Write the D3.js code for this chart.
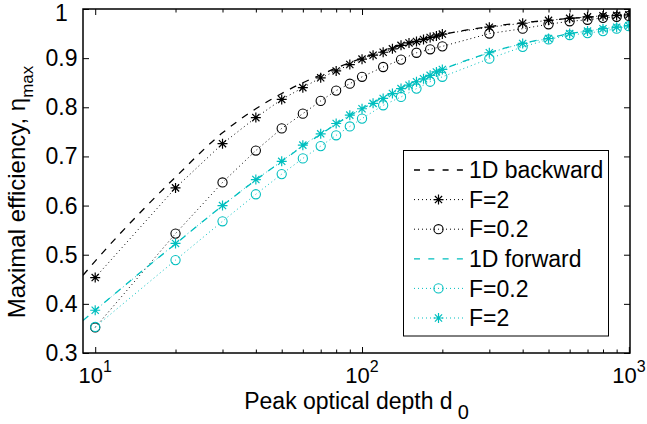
<!DOCTYPE html>
<html>
<head>
<meta charset="utf-8">
<script src="https://cdn.jsdelivr.net/npm/d3@7/dist/d3.min.js"></script>
<style>
  html, body { margin: 0; padding: 0; background: #fff; }
  svg { display: block; font-family: "Liberation Sans", Arial, Helvetica, sans-serif; }
</style>
</head>
<body>
<svg id="chart" width="647" height="424"></svg>
<script>
// Peak optical depth grid for the smooth 1D curves
const curveD = [9, 10, 15, 20, 30, 40, 50, 60, 70, 80, 90, 100, 150, 200, 300, 400, 500, 600, 700, 800, 900, 1000];
const backward1D = [0.458, 0.487, 0.590, 0.658, 0.748, 0.797, 0.828, 0.850, 0.866, 0.880, 0.891, 0.900, 0.931, 0.948, 0.964, 0.972, 0.977, 0.981, 0.983, 0.985, 0.987, 0.988];
const forward1D  = [0.366, 0.387, 0.467, 0.522, 0.600, 0.652, 0.690, 0.721, 0.745, 0.766, 0.783, 0.797, 0.847, 0.877, 0.911, 0.930, 0.941, 0.950, 0.955, 0.960, 0.963, 0.966];

// Optical depths of the F=2 runs and of the F=0.2 runs
const dF2  = [10, 20, 30, 40, 50, 60, 70, 80, 90, 100, 110, 120, 130, 140, 150, 160, 170, 180, 190, 200, 300, 400, 500, 600, 700, 800, 900, 1000];
const dF02 = [10, 20, 30, 40, 50, 60, 70, 80, 90, 100, 120, 140, 160, 180, 200, 300, 400, 500, 600, 700, 800, 900, 1000];

// Backward retrieval
const backF2  = [0.4535, 0.636, 0.726, 0.779, 0.816, 0.840, 0.860, 0.874, 0.887, 0.898, 0.906, 0.912, 0.919, 0.926, 0.931, 0.934, 0.938, 0.942, 0.945, 0.949, 0.963, 0.971, 0.977, 0.981, 0.984, 0.986, 0.987, 0.988];
const backF02 = [0.352, 0.543, 0.647, 0.712, 0.757, 0.787, 0.813, 0.834, 0.848, 0.862, 0.882, 0.897, 0.911, 0.918, 0.924, 0.950, 0.960, 0.969, 0.975, 0.978, 0.982, 0.984, 0.986];

// Forward retrieval
const fwdF02 = [0.353, 0.489, 0.568, 0.623, 0.664, 0.696, 0.721, 0.743, 0.761, 0.777, 0.804, 0.821, 0.838, 0.852, 0.862, 0.899, 0.923, 0.938, 0.947, 0.951, 0.955, 0.960, 0.965];
const fwdF2  = [0.387, 0.523, 0.600, 0.653, 0.690, 0.723, 0.746, 0.767, 0.784, 0.797, 0.808, 0.818, 0.828, 0.838, 0.845, 0.852, 0.858, 0.865, 0.872, 0.877, 0.911, 0.930, 0.940, 0.950, 0.955, 0.960, 0.963, 0.966];

// Axis ticks
const xMajor = [10, 100, 1000];
const xMajorExp = ["1", "2", "3"];
const xMinor = [20, 30, 40, 50, 60, 70, 80, 90, 200, 300, 400, 500, 600, 700, 800, 900];
const yTicks = [0.3, 0.4, 0.5, 0.6, 0.7, 0.8, 0.9, 1];
const yTickLabels = ["0.3", "0.4", "0.5", "0.6", "0.7", "0.8", "0.9", "1"];

const legendLabels = ["1D backward", "F=2", "F=0.2", "1D forward", "F=0.2", "F=2"];

const BLACK = "#000000";
const CYAN = "#00bfbf";

const svg = d3.select("#chart");
const L = 83, R = 630, T = 9, B = 353;

const x = d3.scaleLog().domain([9, 1010]).range([L, R]);
const y = d3.scaleLinear().domain([0.3, 1]).range([B, T]);

const line = d3.line().x(d => x(d[0])).y(d => y(d[1]));
const smooth = d3.line().x(d => x(d[0])).y(d => y(d[1])).curve(d3.curveMonotoneX);

const zip = (a, b) => a.map((v, i) => [v, b[i]]);

const series = [
  { label: legendLabels[0], d: curveD, v: backward1D, color: BLACK, dash: "7,7", marker: null },
  { label: legendLabels[1], d: dF2,    v: backF2,     color: BLACK, dash: "1,3", marker: "star" },
  { label: legendLabels[2], d: dF02,   v: backF02,    color: BLACK, dash: "1,3", marker: "circle" },
  { label: legendLabels[3], d: curveD, v: forward1D,  color: CYAN,  dash: "7,7", marker: null },
  { label: legendLabels[4], d: dF02,   v: fwdF02,     color: CYAN,  dash: "1,3", marker: "circle" },
  { label: legendLabels[5], d: dF2,    v: fwdF2,      color: CYAN,  dash: "1,3", marker: "star" }
];

const S = 5;
const starPath = `M${-S},0H${S}M0,${-S}V${S}M${-0.72*S},${-0.72*S}L${0.72*S},${0.72*S}M${-0.72*S},${0.72*S}L${0.72*S},${-0.72*S}`;

function drawMarker(g, type, color, px, py) {
  if (type === "star") {
    g.append("path").attr("d", starPath).attr("transform", `translate(${px},${py})`)
      .attr("fill", "none").attr("stroke", color).attr("stroke-width", 1.2);
  } else if (type === "circle") {
    g.append("circle").attr("cx", px).attr("cy", py).attr("r", 4.6)
      .attr("fill", "none").attr("stroke", color).attr("stroke-width", 1.1);
  }
}

// Clip the curves to the axes box
svg.append("defs").append("clipPath").attr("id", "plotClip")
  .append("rect").attr("x", L).attr("y", T).attr("width", R - L).attr("height", B - T);

const plot = svg.append("g").attr("clip-path", "url(#plotClip)");

series.forEach(s => {
  const pts = zip(s.d, s.v);
  plot.append("path")
    .attr("d", s.marker ? line(pts) : smooth(pts))
    .attr("fill", "none")
    .attr("stroke", s.color)
    .attr("stroke-width", s.marker ? 1 : 1.3)
    .attr("stroke-dasharray", s.dash);
  if (s.marker) {
    const mg = plot.append("g");
    pts.forEach(p => drawMarker(mg, s.marker, s.color, x(p[0]), y(p[1])));
  }
});

// Axes: ticks point inward on all four sides
const axes = svg.append("g");
const styleAxis = g => { g.select(".domain").remove(); g.selectAll("line").attr("stroke", "#000").attr("stroke-width", 1); };

axes.append("g").attr("transform", `translate(0,${B})`)
  .call(d3.axisBottom(x).tickValues(xMajor).tickSize(-6).tickFormat(() => "")).call(styleAxis);
axes.append("g").attr("transform", `translate(0,${B})`)
  .call(d3.axisBottom(x).tickValues(xMinor).tickSize(-3.5).tickFormat(() => "")).call(styleAxis);
axes.append("g").attr("transform", `translate(0,${T})`)
  .call(d3.axisTop(x).tickValues(xMajor).tickSize(-6).tickFormat(() => "")).call(styleAxis);
axes.append("g").attr("transform", `translate(0,${T})`)
  .call(d3.axisTop(x).tickValues(xMinor).tickSize(-3.5).tickFormat(() => "")).call(styleAxis);
axes.append("g").attr("transform", `translate(${L},0)`)
  .call(d3.axisLeft(y).tickValues(yTicks).tickSize(-6).tickFormat(() => "")).call(styleAxis);
axes.append("g").attr("transform", `translate(${R},0)`)
  .call(d3.axisRight(y).tickValues(yTicks).tickSize(-6).tickFormat(() => "")).call(styleAxis);

axes.append("rect").attr("x", L).attr("y", T).attr("width", R - L).attr("height", B - T)
  .attr("fill", "none").attr("stroke", "#000").attr("stroke-width", 1.5);

// Tick labels (baseline of the topmost one is kept inside the canvas)
const yl = svg.append("g").attr("font-size", 23).attr("fill", "#000").attr("text-anchor", "middle");
yTicks.forEach((t, i) => {
  yl.append("text").attr("x", 61.5).attr("y", Math.max(y(t) + 8, 21)).text(yTickLabels[i]);
});

const xl = svg.append("g").attr("fill", "#000").attr("text-anchor", "middle");
xMajor.forEach((t, i) => {
  const tx = xl.append("text").attr("x", x(t)).attr("y", 382.5).attr("font-size", 22);
  tx.append("tspan").text("10");
  tx.append("tspan").attr("font-size", 16).attr("dy", -11).text(xMajorExp[i]);
});

// Axis titles
const xt = svg.append("text").attr("x", (L + R) / 2).attr("y", 408.5).attr("text-anchor", "middle")
  .attr("font-size", 23).attr("fill", "#000");
xt.append("tspan").text("Peak optical depth d");
xt.append("tspan").attr("dx", 5).attr("dy", 10).attr("font-size", 20).text("0");

const yt = svg.append("text").attr("transform", "translate(25,192) rotate(-90)")
  .attr("text-anchor", "middle").attr("font-size", 24).attr("fill", "#000");
yt.append("tspan").text("Maximal efficiency, η");
yt.append("tspan").attr("dy", 8).attr("font-size", 17).text("max");

// Legend
const lg = svg.append("g");
lg.append("rect").attr("x", 403.5).attr("y", 150.5).attr("width", 205).attr("height", 185.5)
  .attr("fill", "#fff").attr("stroke", "#000").attr("stroke-width", 1);
series.forEach((s, i) => {
  const ry = 170 + i * 29.6;
  lg.append("line").attr("x1", 414).attr("x2", 463).attr("y1", ry).attr("y2", ry)
    .attr("stroke", s.color).attr("stroke-width", s.marker ? 1 : 1.3)
    .attr("stroke-dasharray", s.marker ? "1,3" : "6,8.3");
  if (s.marker) drawMarker(lg, s.marker, s.color, 438.5, ry);
  lg.append("text").attr("x", 469).attr("y", ry).attr("dy", "0.36em")
    .attr("font-size", 23).attr("fill", "#000").text(s.label);
});
</script>
</body>
</html>
